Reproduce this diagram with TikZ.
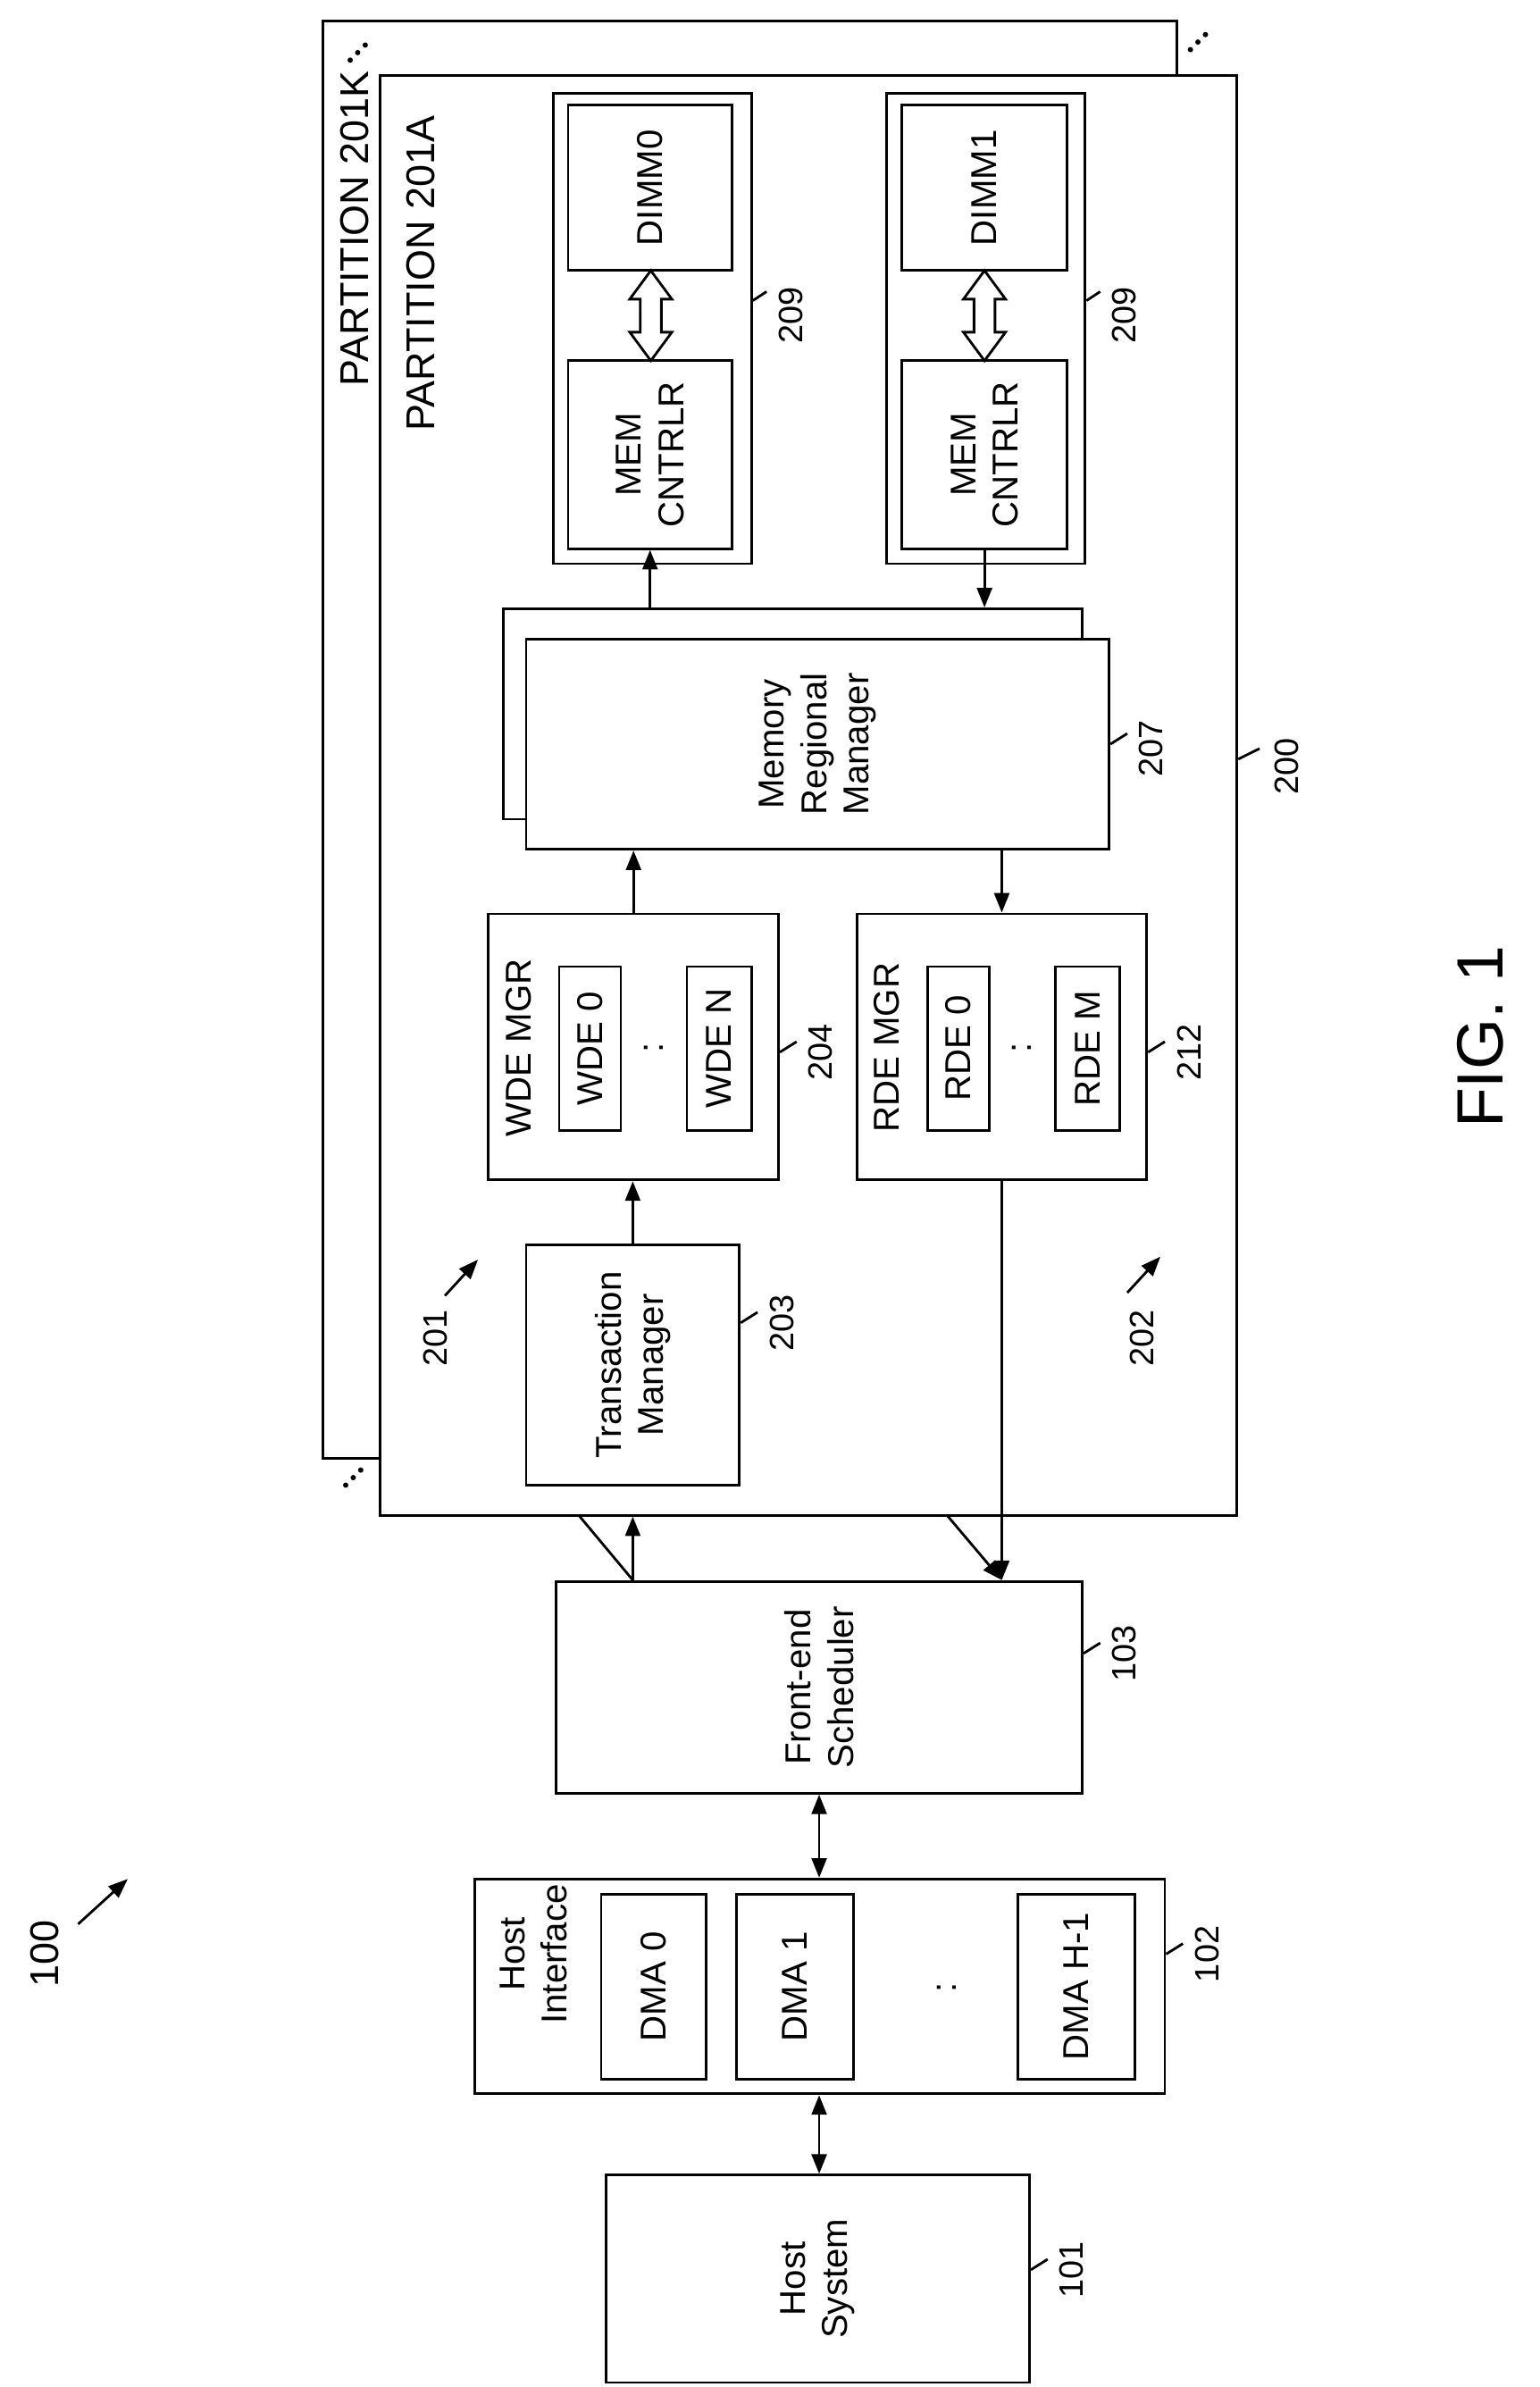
\documentclass[tikz,border=0pt]{standalone}
\usepackage{fontspec}
\setmainfont{Liberation Sans}
\usetikzlibrary{arrows.meta,fit}
\begin{document}
\begin{tikzpicture}[x=0.5mm,y=-0.5mm,line width=2.4pt,
  box/.style={draw,inner sep=0pt},
  txt/.style={rotate=90,align=center,font=\fontsize{34}{40}\selectfont},
  num/.style={rotate=90,font=\fontsize{32}{38}\selectfont},
  arr/.style={-{Triangle[length=6.5mm,width=5mm]}},
  darr/.style={{Triangle[length=6.5mm,width=5mm]}-{Triangle[length=6.5mm,width=5mm]}},
  dots/.style={fill,circle,inner sep=1.8pt}]
\useasboundingbox (0,0) rectangle (1024,1588);
% partitions
\node[box,fit={(215,14)(783,970)}] (p201k) {};
\node[box,fill=white,fit={(253,50)(823,1008)}] (p201a) {};
\node[txt,font=\fontsize{38}{44}\selectfont] (l201k) at (236,152) {PARTITION 201K};
\node[txt,font=\fontsize{38}{44}\selectfont] (l201a) at (280,182) {PARTITION 201A};
\foreach \cx/\cy [count=\i] in {235/983,238/35,797/28}{
  \node[dots] (da\i) at (\cx-5,\cy+5) {};
  \node[dots] (db\i) at (\cx,\cy) {};
  \node[dots] (dc\i) at (\cx+5,\cy-5) {};}
% 209 groups
\node[box,fit={(368,62)(500,375)}] (g0) {};
\node[box,fit={(378,70)(487,180)}] (dimm0) {};
\node[txt] at (dimm0.center) {DIMM0};
\node[box,fit={(378,240)(487,365)}] (mem0) {};
\node[txt] at (mem0.center) {MEM\\CNTRLR};
\node[box,fit={(590,62)(722,375)}] (g1) {};
\node[box,fit={(600,70)(710,180)}] (dimm1) {};
\node[txt] at (dimm1.center) {DIMM1};
\node[box,fit={(600,240)(710,365)}] (mem1) {};
\node[txt] at (mem1.center) {MEM\\CNTRLR};
\foreach \c/\n in {433/0,655/1}{
  \draw (\c,180) -- (\c+14,199) -- (\c+7,199) -- (\c+7,221) -- (\c+14,221) -- (\c,240)
    -- (\c-14,221) -- (\c-7,221) -- (\c-7,199) -- (\c-14,199) -- cycle;}
\draw (g0.east |- 0,200) -- (510,194);
\node[num] (n209a) at (526,210) {209};
\draw (g1.east |- 0,200) -- (732,194);
\node[num] (n209b) at (748,210) {209};
% memory regional manager
\node[box,fit={(335,405)(720,545)}] (mrmb) {};
\node[box,fill=white,fit={(350,425)(738,565)}] (mrm) {};
\node[txt] at (mrm.center) {Memory\\Regional\\Manager};
\draw (mrm.east |- 0,495) -- (750,488);
\node[num] (n207) at (766,498) {207};
% WDE / RDE
\node[box,fit={(325,608)(518,785)}] (wde) {};
\node[txt] at (345,697) {WDE MGR};
\node[box,fit={(372,643)(413,752)}] (wde0) {};
\node[txt] at (wde0.center) {WDE 0};
\node[txt] at (435,697) {:};
\node[box,fit={(457,643)(500,752)}] (wden) {};
\node[txt] at (wden.center) {WDE N};
\draw (wde.east |- 0,700) -- (530,693);
\node[num] (n204) at (546,700) {204};
\node[box,fit={(570,608)(763,785)}] (rde) {};
\node[txt] at (590,697) {RDE MGR};
\node[box,fit={(617,643)(658,752)}] (rde0) {};
\node[txt] at (rde0.center) {RDE 0};
\node[txt] at (680,697) {:};
\node[box,fit={(702,643)(745,752)}] (rdem) {};
\node[txt] at (rdem.center) {RDE M};
\draw (rde.east |- 0,700) -- (775,693);
\node[num] (n212) at (791,700) {212};
% transaction manager
\node[box,fit={(350,828)(492,988)}] (tm) {};
\node[txt] at (tm.center) {Transaction\\Manager};
\draw (tm.east |- 0,880) -- (504,873);
\node[num] (n203) at (520,880) {203};
% 201 / 202 / 200
\node[num] (n201) at (290,890) {201};
\coordinate (a201) at (318,838);
\draw[arr] (296,862) -- (a201);
\node[num] (n202) at (760,890) {202};
\coordinate (a202) at (772,836);
\draw[arr] (750,860) -- (a202);
\draw (p201a.east |- 0,505) -- (838,498);
\node[num] (n200) at (856,510) {200};
% internal arrows
\draw[arr] (tm.north) -- (tm.north |- wde.south);
\draw[arr] (wde.north) -- (wde.north |- mrm.south);
\draw[arr] (mrm.south -| rde.north) -- (rde.north);
\draw[arr] (mrmb.north -| mem0.south) -- (mem0.south);
\draw[arr] (mem1.south) -- (mem1.south |- mrmb.north);
% front-end
\node[box,fit={(370,1052)(720,1193)}] (fe) {};
\node[txt] at (fe.center) {Front-end\\Scheduler};
\draw (fe.east |- 0,1100) -- (732,1093);
\node[num] (n103) at (748,1100) {103};
\draw[arr] (fe.north -| tm.north) -- (tm.north |- p201a.south);
\draw (fe.north -| tm.north) -- (385,1008);
\draw[arr] (rde.south) -- (rde.south |- fe.north);
\draw[arr] (630,1008) -- (rde.south |- fe.north);
% host interface
\node[box,fit={(316,1250)(775,1393)}] (hi) {};
\node[txt] at (355,1300) {Host\\Interface};
\node[box,fit={(400,1260)(470,1383)}] (dma0) {};
\node[txt] at (dma0.center) {DMA 0};
\node[box,fit={(490,1260)(568,1383)}] (dma1) {};
\node[txt] at (dma1.center) {DMA 1};
\node[txt] at (630,1322) {:};
\node[box,fit={(677,1260)(755,1383)}] (dmah) {};
\node[txt] at (dmah.center) {DMA H-1};
\draw (hi.east |- 0,1300) -- (787,1293);
\node[num] (n102) at (803,1300) {102};
\draw[darr] (fe.south -| 545,0) -- (hi.north -| 545,0);
% host system
\node[box,fit={(403,1447)(685,1585)}] (hs) {};
\node[txt] at (hs.center) {Host\\System};
\draw (hs.east |- 0,1510) -- (697,1503);
\node[num] (n101) at (713,1510) {101};
\draw[darr] (hi.south -| 545,0) -- (hs.north -| 545,0);
% 100 and fig
\node[num,font=\fontsize{38}{44}\selectfont] (n100) at (30,1300) {100};
\coordinate (a100) at (85,1250);
\draw[arr] (52,1280) -- (a100);
\node[rotate=90,font=\fontsize{62}{70}\selectfont] (fig) at (985,690) {FIG. 1};
\end{tikzpicture}
\end{document}
